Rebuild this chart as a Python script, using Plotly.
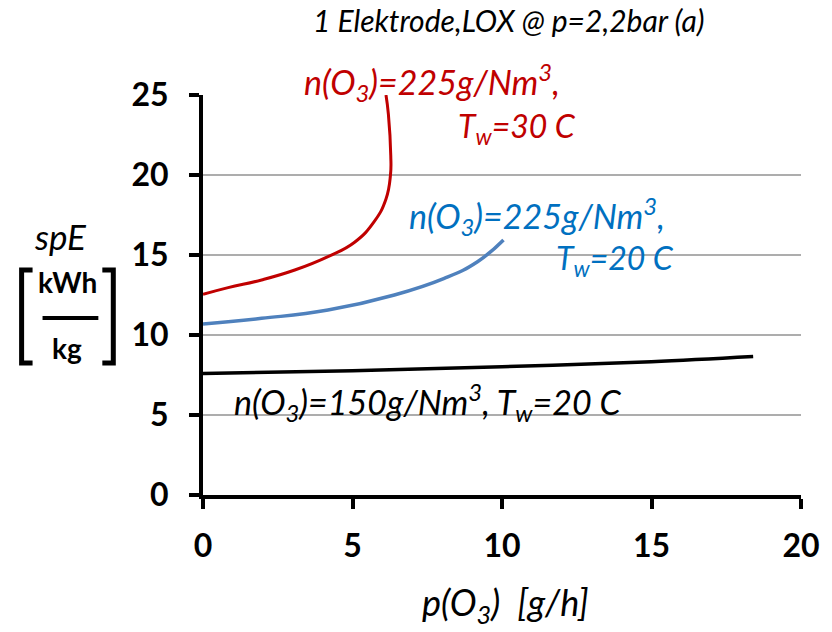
import plotly.graph_objects as go

# Ozone production: specific energy vs. ozone output
x_30c_225 = [0.0, 0.84, 1.96, 3.07, 4.18, 5.07, 5.73, 6.12, 6.27, 6.28, 6.2, 6.12]
y_30c_225 = [12.54, 12.96, 13.44, 14.06, 14.9, 15.8, 17.1, 18.5, 20.0, 21.2, 23.8, 25.0]

x_20c_225 = [0.0, 1.96, 4.18, 6.4, 8.07, 9.18, 10.05]
y_20c_225 = [10.69, 11.04, 11.56, 12.5, 13.54, 14.58, 15.94]

x_20c_150 = [0.0, 5.0, 10.0, 15.0, 18.4]
y_20c_150 = [7.6, 7.77, 8.02, 8.33, 8.65]

x_ticks = [0, 5, 10, 15, 20]
y_ticks = [0, 5, 10, 15, 20, 25]

RED = "#C00000"
BLUE_LINE = "#4F81BD"
BLUE_TEXT = "#0070C0"
FONT = "Lato"

W, H = 832, 632
L, R, T, B = 203, 29, 95, 137
PW, PH = W - L - R, H - T - B


def px(xp):
    return (xp - L) / PW


def py(yp):
    return (H - B - yp) / PH


fig = go.Figure()
fig.add_trace(go.Scatter(x=x_30c_225, y=y_30c_225, mode="lines",
                         line=dict(color=RED, width=3, shape="spline", smoothing=1.3)))
fig.add_trace(go.Scatter(x=x_20c_225, y=y_20c_225, mode="lines",
                         line=dict(color=BLUE_LINE, width=3.5, shape="spline", smoothing=1.3)))
fig.add_trace(go.Scatter(x=x_20c_150, y=y_20c_150, mode="lines",
                         line=dict(color="black", width=3.5, shape="spline", smoothing=1.0)))

tickfont = dict(family=FONT, size=32, color="black", weight="bold")
fig.update_xaxes(range=[0, 20], tickvals=x_ticks, showgrid=False, zeroline=False,
                 showline=True, linewidth=4, linecolor="black",
                 ticks="outside", ticklen=10, tickwidth=4, tickcolor="black",
                 tickfont=tickfont, ticklabelstandoff=10)
fig.update_yaxes(range=[0, 25], tickvals=y_ticks, showgrid=True, gridcolor="#ADADAD",
                 gridwidth=1.5, zeroline=False,
                 showline=True, linewidth=4, linecolor="black",
                 ticks="outside", ticklen=10, tickwidth=4, tickcolor="black",
                 tickfont=tickfont, ticklabelstandoff=14)

ann = []


def label(text, xp, yp, color, size=34, xanchor="left", weight="normal", style="italic"):
    ann.append(dict(text=text, x=px(xp), y=py(yp), xref="paper", yref="paper",
                    xanchor=xanchor, yanchor="middle", showarrow=False,
                    font=dict(family=FONT, size=size, color=color, style=style, weight=weight)))


# title and axis titles
label("1 Elektrode,LOX @ p=2,2bar (a)", 510, 20, "black", size=30, xanchor="center")
label("p(O<sub>3</sub>)\u00a0\u00a0[g/h]", 507, 604, "black", size=36, xanchor="center")
label("spE", 60, 236, "black", size=35, xanchor="center")
label("kWh", 67, 282, "black", size=28, xanchor="center", weight="bold", style="normal")
label("kg", 67, 348, "black", size=28, xanchor="center", weight="bold", style="normal")

# curve labels
label("n(O<sub>3</sub>)=225g/Nm<sup>3</sup>,", 302, 82, RED)
label("T<sub>w</sub>=30 C", 457, 128, RED, size=32)
label("n(O<sub>3</sub>)=225g/Nm<sup>3</sup>,", 408, 216, BLUE_TEXT)
label("T<sub>w</sub>=20 C", 555, 260, BLUE_TEXT, size=32)
label("n(O<sub>3</sub>)=150g/Nm<sup>3</sup>, T<sub>w</sub>=20 C", 232, 402, "black", size=34)

shapes = []


def seg_path(points):
    return "M " + " L ".join(f"{px(a)},{py(b)}" for a, b in points)


# square brackets and fraction bar around the unit
shapes.append(dict(type="path", xref="paper", yref="paper",
                   path=seg_path([(32, 270), (21, 270), (21, 363), (32, 363)]),
                   line=dict(color="black", width=5)))
shapes.append(dict(type="path", xref="paper", yref="paper",
                   path=seg_path([(102, 270), (113, 270), (113, 363), (102, 363)]),
                   line=dict(color="black", width=5)))
shapes.append(dict(type="line", xref="paper", yref="paper",
                   x0=px(42), x1=px(98), y0=py(318), y1=py(318),
                   line=dict(color="black", width=4)))

fig.update_layout(width=W, height=H, margin=dict(l=L, r=R, t=T, b=B),
                  paper_bgcolor="white", plot_bgcolor="white", showlegend=False,
                  annotations=ann, shapes=shapes)

fig.write_html("out.html")
